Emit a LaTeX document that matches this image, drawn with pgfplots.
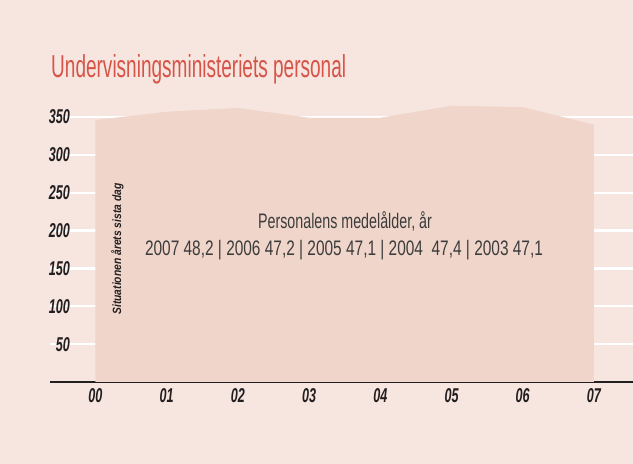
\documentclass[border=0pt]{standalone}
\usepackage{pgfplots}
\pgfplotsset{compat=1.18}
\usepackage{fontspec}
\setmainfont{Liberation Sans}
\newfontfamily\titlefont[FakeStretch=0.60]{Liberation Sans}
\newfontfamily\noteAfont[FakeStretch=0.68]{Liberation Sans}
\newfontfamily\noteBfont[FakeStretch=0.735]{Liberation Sans}
\newfontfamily\tickfont[FakeStretch=0.63]{Liberation Sans}
\newfontfamily\sidefont[FakeStretch=0.86]{Liberation Sans}

\definecolor{bgpink}{RGB}{247,230,224}
\definecolor{areapink}{RGB}{240,213,202}
\definecolor{titlered}{RGB}{214,84,72}
\definecolor{inkdark}{RGB}{35,31,32}
\definecolor{notegray}{RGB}{60,60,60}

\begin{document}
\begin{tikzpicture}[x=1pt,y=1pt]
  % bakgrund
  \fill[bgpink] (0,0) rectangle (633,464);
  \useasboundingbox (0,0) rectangle (633,464);

  \node[anchor=base west, inner sep=0pt, text=titlered,
        font=\titlefont\fontsize{31.7}{34}\selectfont] at (51,386.3)
        {Undervisningsministeriets personal};

  \begin{axis}[
      at={(50pt,82pt)}, anchor=south west,
      scale only axis,
      width=583pt, height=287.7pt,
      xmin=-0.639, xmax=7.549,
      ymin=0, ymax=380,
      axis x line*=bottom, axis y line*=left,
      x axis line style={line width=2.5pt, inkdark, -},
      y axis line style={draw=none},
      tick style={draw=none},
      major tick length=0pt,
      xtick={0,...,7},
      xticklabels={00,01,02,03,04,05,06,07},
      ytick={50,100,...,350},
      yticklabels={50,100,150,200,250,300,350},
      ymajorgrids,
      grid style={white, line width=2.3pt},
      ticklabel style={font=\tickfont\bfseries\itshape\fontsize{20}{22}\selectfont, text=inkdark, inner sep=0pt},
      xticklabel style={anchor=north, yshift=-6pt},
      yticklabel style={anchor=east, xshift=20pt},
      clip=false,
    ]
    % personal vid årets slut
    \addplot[fill=areapink, draw=none] coordinates {
      (0,346) (1,357) (2,362) (3,349) (4,349) (5,365) (6,363) (7,340)
    } \closedcycle;
  \end{axis}

  \node[anchor=base, rotate=90, inner sep=0pt, text=inkdark,
        font=\sidefont\bfseries\itshape\fontsize{12}{14}\selectfont] at (121,215)
        {Situationen årets sista dag};

  \node[anchor=base, inner sep=0pt, text=notegray,
        font=\noteAfont\fontsize{21}{24}\selectfont] at (345,235.7)
        {Personalens medelålder, år};
  \node[anchor=base, inner sep=0pt, text=notegray,
        font=\noteBfont\fontsize{21}{24}\selectfont] at (344,208)
        {2007 48,2 | 2006 47,2 | 2005 47,1 | 2004\ \ 47,4 | 2003 47,1};
\end{tikzpicture}
\end{document}
